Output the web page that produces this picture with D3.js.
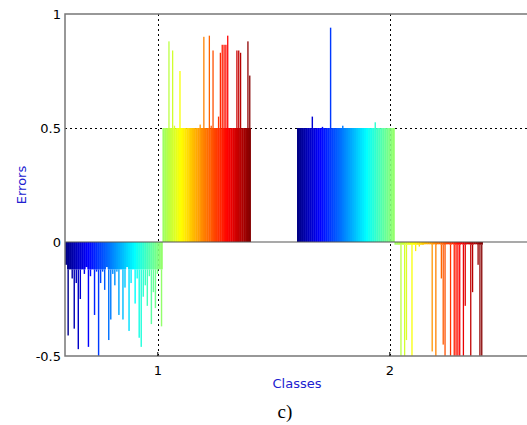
<!DOCTYPE html>
<html>
<head>
<meta charset="utf-8">
<script src="https://cdn.jsdelivr.net/npm/d3@7/dist/d3.min.js"></script>
<style>
  body { margin: 0; background: #fff; }
  svg { display: block; }
</style>
</head>
<body>
<div id="chart"></div>
<script>
const WIDTH  = 527;
const HEIGHT = 425;

// class centres and tick labels
const classes = [1, 2];
const xTicks  = [1, 2];
const yTicks  = [-0.5, 0, 0.5, 1];

// each run of samples: [class, start, end, dense level] in data units
const runs = [
    [1, 0.60, 1.02, -0.12],
    [1, 1.02, 1.40, 0.50],
    [2, 1.60, 2.02, 0.50],
    [2, 2.02, 2.40, -0.012]
];

// errors per sample
const errClass1Low = [-0.10,-0.41,-0.12,-0.16,-0.38,-0.18,-0.47,-0.25,-0.12,-0.14,-0.11,-0.46,
                      -0.15,-0.12,-0.32,-0.13,-0.50,-0.18,-0.13,-0.21,-0.11,-0.43,-0.34,-0.14,
                      -0.19,-0.13,-0.32,-0.12,-0.34,-0.20,-0.11,-0.39,-0.18,-0.12,-0.27,-0.16,
                      -0.42,-0.46,-0.24,-0.19,-0.28,-0.15,-0.36,-0.22,-0.29,-0.14,-0.12,-0.37];
const errClass1High = [0.50,0.50,0.50,0.88,0.50,0.84,0.51,0.50,0.50,0.75,0.50,0.50,
                       0.50,0.50,0.50,0.50,0.50,0.50,0.50,0.50,0.515,0.50,0.90,0.50,
                       0.50,0.905,0.51,0.84,0.50,0.50,0.55,0.83,0.865,0.865,0.865,0.905,
                       0.50,0.50,0.50,0.50,0.84,0.84,0.83,0.50,0.50,0.50,0.88,0.73];
const errClass2Low = [0.50,0.50,0.50,0.50,0.50,0.50,0.50,0.55,0.50,0.50,0.50,0.50,
                      0.505,0.50,0.50,0.50,0.94,0.50,0.50,0.50,0.50,0.50,0.51,0.50,
                      0.50,0.50,0.50,0.50,0.50,0.50,0.50,0.50,0.50,0.50,0.50,0.50,
                      0.50,0.50,0.525,0.50,0.50,0.50,0.50,0.50,0.50,0.50,0.50,0.50];
const errClass2High = [-0.012,-0.012,-0.012,-0.55,-0.012,-0.55,-0.43,-0.012,-0.012,-0.55,-0.012,-0.04,
                       -0.012,-0.02,-0.012,-0.012,-0.01,-0.01,-0.01,-0.01,-0.48,-0.01,-0.55,-0.01,
                       -0.01,-0.16,-0.45,-0.55,-0.01,-0.01,-0.55,-0.01,-0.55,-0.55,-0.55,-0.55,
                       -0.01,-0.55,-0.28,-0.01,-0.01,-0.55,-0.22,-0.01,-0.01,-0.10,-0.55,-0.55];
const errors = [errClass1Low, errClass1High, errClass2Low, errClass2High];

const MARGIN = { top: 14, left: 65 };
const PLOT_RIGHT  = 529;
const PLOT_BOTTOM = 356;

const x = d3.scaleLinear().domain([0.6, 2.6]).range([MARGIN.left, PLOT_RIGHT]);
const y = d3.scaleLinear().domain([-0.5, 1]).range([PLOT_BOTTOM, MARGIN.top]);

// jet colormap
const jet = d3.scaleLinear()
    .domain([0, 0.125, 0.375, 0.625, 0.875, 1])
    .range(["#000080", "#0000ff", "#00ffff", "#ffff00", "#ff0000", "#800000"]);

const svg = d3.select("#chart").append("svg")
    .attr("width", WIDTH)
    .attr("height", HEIGHT)
    .style("font-family", "'DejaVu Sans', sans-serif");

svg.append("clipPath").attr("id", "plot-clip")
    .append("rect")
    .attr("x", MARGIN.left).attr("y", MARGIN.top)
    .attr("width", PLOT_RIGHT - MARGIN.left).attr("height", PLOT_BOTTOM - MARGIN.top);

// grid (behind the bars)
const grid = svg.append("g").attr("stroke", "#000").attr("stroke-width", 1)
    .attr("stroke-dasharray", "2,3");
grid.selectAll(".gx").data(xTicks).join("line")
    .attr("x1", d => Math.round(x(d)) + 0.5).attr("x2", d => Math.round(x(d)) + 0.5)
    .attr("y1", MARGIN.top).attr("y2", PLOT_BOTTOM);
grid.selectAll(".gy").data([0.5]).join("line")
    .attr("y1", d => Math.round(y(d)) + 0.5).attr("y2", d => Math.round(y(d)) + 0.5)
    .attr("x1", MARGIN.left).attr("x2", PLOT_RIGHT);

// bars: a dense part up to the run's common level, then a thin spike for the rest
const bars = svg.append("g").attr("clip-path", "url(#plot-clip)");
runs.forEach((run, k) => {
    const [cls, start, end, level] = run;
    const vals = errors[k];
    const band = d3.scaleBand().domain(d3.range(vals.length)).range([x(start), x(end)]).padding(0);
    const pos  = d3.scaleLinear().domain([cls - 0.4, cls + 0.4]).range([0, 1]);
    const colour = i => jet(pos(x.invert(band(i) + band.bandwidth() / 2)));
    const core = d => level < 0 ? Math.max(d, level) : Math.min(d, level);
    const g = bars.append("g");

    g.selectAll(".core")
        .data(vals)
        .join("rect")
        .attr("class", "core")
        .attr("x", (d, i) => band(i))
        .attr("width", band.bandwidth() + 0.35)
        .attr("y", d => y(Math.max(0, core(d))))
        .attr("height", d => Math.abs(y(core(d)) - y(0)))
        .attr("fill", (d, i) => colour(i));

    g.selectAll(".spike")
        .data(vals)
        .join("rect")
        .attr("class", "spike")
        .attr("x", (d, i) => band(i) + band.bandwidth() * 0.2)
        .attr("width", band.bandwidth() * 0.7)
        .attr("y", d => y(Math.max(d, core(d))))
        .attr("height", d => Math.abs(y(d) - y(core(d))))
        .attr("fill", (d, i) => colour(i));
});

// zero line
svg.append("line")
    .attr("x1", MARGIN.left).attr("x2", PLOT_RIGHT)
    .attr("y1", y(0)).attr("y2", y(0))
    .attr("stroke", "#555").attr("stroke-width", 1.2);

// axes frame
const frame = svg.append("g").attr("stroke", "#777").attr("stroke-width", 1.5).attr("fill", "none");
frame.append("path")
    .attr("d", `M${PLOT_RIGHT},${MARGIN.top}H${MARGIN.left}V${PLOT_BOTTOM}H${PLOT_RIGHT}`);

// ticks
svg.append("g").selectAll("line").data(xTicks).join("line")
    .attr("x1", d => x(d)).attr("x2", d => x(d))
    .attr("y1", PLOT_BOTTOM).attr("y2", PLOT_BOTTOM - 4)
    .attr("stroke", "#000");

svg.append("g").selectAll("text").data(xTicks).join("text")
    .attr("x", d => x(d)).attr("y", PLOT_BOTTOM + 19)
    .attr("text-anchor", "middle").attr("font-size", 13)
    .text(d => d);

svg.append("g").selectAll("text").data(yTicks).join("text")
    .attr("x", MARGIN.left - 4).attr("y", d => y(d) + 5)
    .attr("text-anchor", "end").attr("font-size", 13)
    .text(d => d);

// labels
svg.append("text")
    .attr("x", 297).attr("y", 388)
    .attr("text-anchor", "middle").attr("font-size", 13).attr("fill", "#2020d0")
    .text("Classes");

svg.append("text")
    .attr("transform", "translate(26,185) rotate(-90)")
    .attr("text-anchor", "middle").attr("font-size", 13).attr("fill", "#2020d0")
    .text("Errors");

svg.append("text")
    .attr("x", 285).attr("y", 418)
    .attr("text-anchor", "middle").attr("font-size", 19)
    .style("font-family", "'Liberation Serif', 'DejaVu Serif', serif")
    .text("c)");
</script>
</body>
</html>
